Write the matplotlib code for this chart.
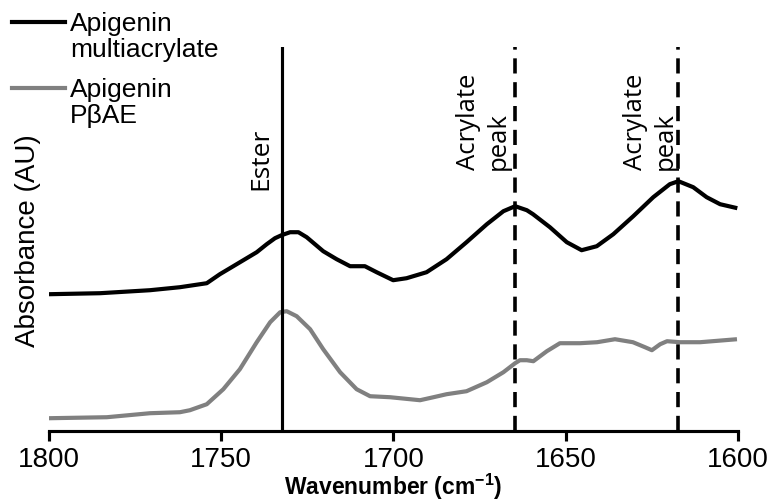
import matplotlib.pyplot as plt
from matplotlib.lines import Line2D

plt.rcParams['font.family'] = ['Liberation Sans', 'DejaVu Sans']
plt.rcParams['mathtext.default'] = 'regular'

# FTIR spectra, wavenumber in cm-1, absorbance in arbitrary units (offset)
wn_multi = [1800.0, 1785.2, 1770.7, 1762.0, 1754.2, 1750.4, 1746.5, 1739.7, 1736.8,
            1734.4, 1732.5, 1730.0, 1727.6, 1725.2, 1720.4, 1716.5, 1712.6, 1708.3,
            1704.9, 1700.1, 1696.2, 1690.4, 1684.6, 1678.8, 1672.9, 1668.1, 1664.7,
            1661.3, 1659.5, 1654.6, 1649.7, 1645.4, 1641.0, 1636.2, 1630.4, 1624.6,
            1619.8, 1617.3, 1613.0, 1609.1, 1605.2, 1600.2]
abs_multi = [1.37, 1.38, 1.41, 1.44, 1.48, 1.57, 1.65, 1.79, 1.87,
             1.93, 1.96, 1.99, 1.99, 1.94, 1.80, 1.72, 1.65, 1.65,
             1.59, 1.51, 1.53, 1.59, 1.72, 1.89, 2.07, 2.20, 2.25,
             2.21, 2.17, 2.04, 1.89, 1.81, 1.85, 1.97, 2.15, 2.34,
             2.47, 2.50, 2.44, 2.34, 2.27, 2.23]

wn_pbae = [1800.0, 1783.2, 1770.7, 1762.0, 1759.1, 1754.2, 1749.4, 1744.6, 1739.7,
           1735.8, 1732.9, 1731.0, 1728.1, 1724.2, 1720.4, 1715.5, 1710.7, 1706.8,
           1701.0, 1698.1, 1692.3, 1688.4, 1684.6, 1678.8, 1672.9, 1668.1, 1664.7,
           1663.3, 1661.3, 1659.4, 1655.5, 1651.7, 1645.9, 1640.9, 1635.7, 1630.5,
           1627.0, 1625.0, 1622.6, 1620.6, 1616.8, 1611.0, 1600.3]
abs_pbae = [0.13, 0.14, 0.18, 0.19, 0.21, 0.27, 0.42, 0.62, 0.89,
            1.09, 1.19, 1.20, 1.15, 1.02, 0.82, 0.59, 0.42, 0.35,
            0.34, 0.33, 0.31, 0.34, 0.37, 0.40, 0.49, 0.59, 0.68,
            0.71, 0.71, 0.70, 0.80, 0.88, 0.88, 0.89, 0.92, 0.89,
            0.84, 0.81, 0.87, 0.90, 0.89, 0.89, 0.92]

ester_wn = 1732.4
acrylate_wn = [1664.7, 1617.4]

labels = ['Apigenin\nmultiacrylate', 'Apigenin\nP\u03b2AE']
colors = ['black', '#808080']

fig = plt.figure(figsize=(7.69, 5.02), dpi=100)
ax = fig.add_axes([0.0637, 0.139, 0.896, 0.765])

ax.plot(wn_multi, abs_multi, color=colors[0], lw=3, solid_joinstyle='round',
        solid_capstyle='butt')
ax.plot(wn_pbae, abs_pbae, color=colors[1], lw=3, solid_joinstyle='round',
        solid_capstyle='butt')

ax.axvline(ester_wn, color='black', lw=2.25)
for w in acrylate_wn:
    ax.axvline(w, color='black', lw=2.6, dashes=(4.2, 2.4))

ax.text(1738.5, 2.42, 'Ester', rotation=90, ha='center', va='bottom',
        family=['Open Sans', 'DejaVu Sans'], fontsize=19)
for x in [1674.0, 1625.3]:
    ax.text(x, 2.62, 'Acrylate\npeak', rotation=90, ha='center', va='bottom',
            multialignment='left', linespacing=1.25,
            family=['Open Sans', 'DejaVu Sans'], fontsize=18.5)

ax.set_xlim(1800, 1600)
ax.set_ylim(0, 3.84)
ax.set_xticks([1800, 1750, 1700, 1650, 1600])
ax.set_yticks([])
for side in ['left', 'top', 'right']:
    ax.spines[side].set_visible(False)
ax.spines['bottom'].set_linewidth(2.25)
ax.tick_params(axis='x', direction='out', length=7, width=2.25, labelsize=20, pad=4)

ax.set_xlabel('Wavenumber (cm$^{-1}$)', fontsize=16.5, fontweight='bold', labelpad=-1.5)
ax.set_ylabel('Absorbance (AU)', fontsize=20, labelpad=6)

# legend drawn by hand so the line sits level with the first text row
for i, (lab, c) in enumerate(zip(labels, colors)):
    yl = 1 - (23 + 66 * i) / 502
    fig.add_artist(Line2D([12 / 769, 65 / 769], [yl, yl], color=c, lw=3,
                          transform=fig.transFigure))
    fig.text(70 / 769, yl + 11 / 502, lab, ha='left', va='top', fontsize=19,
             linespacing=1.1)

fig.savefig('out.png', dpi=100)
